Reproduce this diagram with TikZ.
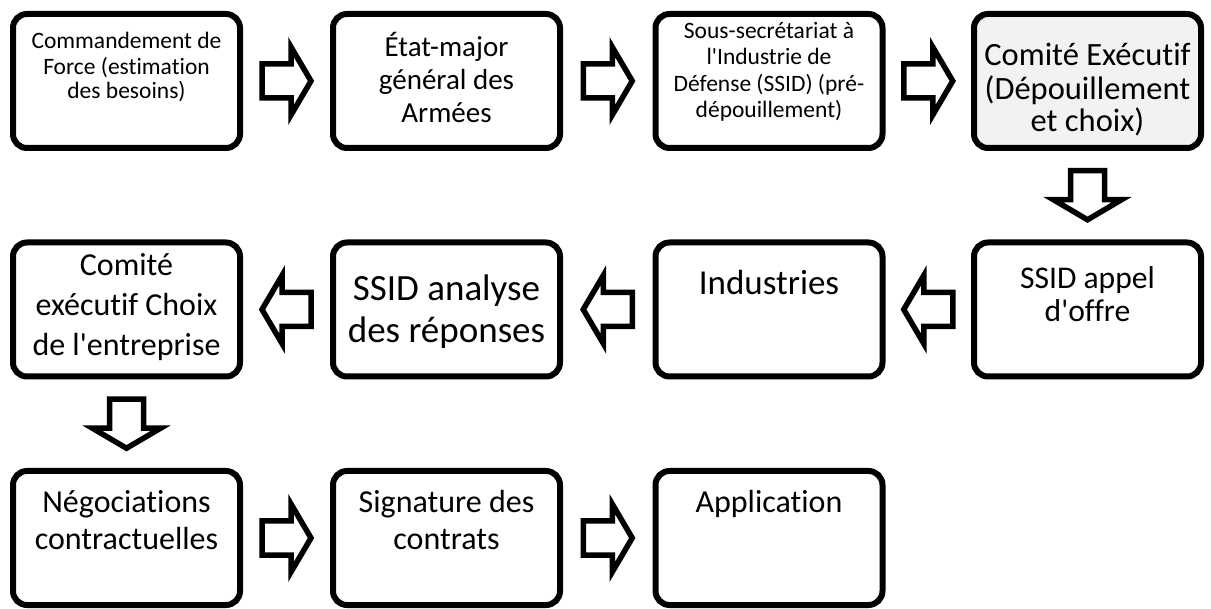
\documentclass[tikz,border=0pt]{standalone}
\usepackage{fontspec}
\setmainfont{Carlito}[Ligatures={TeXOff,CommonOff}]
\usetikzlibrary{calc}
\definecolor{boxgray}{HTML}{F2F2F2}
\newcommand\fsz[2]{\fontsize{#1pt}{#2pt}\selectfont}
\tikzset{
  box/.style={draw=black, line width=6pt, rounded corners=14pt, minimum width=227pt, minimum height=134pt, inner sep=0pt, fill=white},
  txt/.style={anchor=north, align=center, inner sep=0pt},
  blk/.style={draw=black, line width=5.5pt, fill=white, line join=miter},
  barrow/.pic={\path[blk] (-24.5,-17) -- (4.5,-17) -- (4.5,-34) -- (24.5,0) -- (4.5,34) -- (4.5,17) -- (-24.5,17) -- cycle;}
}
\begin{document}
\begin{tikzpicture}[x=1pt,y=-1pt]
\useasboundingbox[fill=white] (0,0) rectangle (1211,609);
% boxes
\node[box] (b1) at (126.5,81) {};
\node[box] (b2) at (446.5,81) {};
\node[box] (b3) at (769,81) {};
\node[box, fill=boxgray] (b4) at (1087.5,81) {};
\node[box] (b5) at (1087.5,309.5) {};
\node[box] (b6) at (769,309.5) {};
\node[box] (b7) at (446.5,309.5) {};
\node[box] (b8) at (126.5,309.5) {};
\node[box] (b9) at (126.5,538) {};
\node[box] (b10) at (446.5,538) {};
\node[box] (b11) at (769,538) {};
% texts
\node[txt, font=\fsz{23.5}{24.5}] (t1) at ($(b1.north)+(0,20.5)$) {\strut Commandement de\\Force (estimation\\des besoins)};
\node[txt, font=\fsz{29}{33}] (t2) at ($(b2.north)+(0,21)$) {\strut État-major\\général des\\Armées};
\node[txt, font=\fsz{23.5}{26.3}] (t3) at ($(b3.north)+(0,8.8)$) {\strut Sous-secrétariat à\\l'Industrie de\\Défense (SSID) (pré-\\dépouillement)};
\node[txt, font=\fsz{32.5}{32}] (t4) at ($(b4.north)+(0,31.6)$) {\strut Comité Exécutif\\(Dépouillement\\et choix)};
\node[txt, font=\fsz{31.6}{33}] (t5) at ($(b5.north)+(0,25.9)$) {\strut SSID appel\\d'offre};
\node[txt, font=\fsz{35}{42}] (t6) at ($(b6.north)+(0,25.6)$) {\strut Industries};
\node[txt, font=\fsz{37}{42}] (t7) at ($(b7.north)+(0,31)$) {\strut SSID analyse\\des réponses};
\node[txt, font=\fsz{32}{40}] (t8) at ($(b8.north)+(0,7.5)$) {\strut Comité\\exécutif Choix\\de l'entreprise};
\node[txt, font=\fsz{32}{37}] (t9) at ($(b9.north)+(0,18.8)$) {\strut Négociations\\contractuelles};
\node[txt, font=\fsz{32}{37}] (t10) at ($(b10.north)+(0,18.8)$) {\strut Signature des\\contrats};
\node[txt, font=\fsz{32}{37}] (t11) at ($(b11.north)+(0,18.8)$) {\strut Application};
% block arrows
\pic at ($(b1.east)!0.5!(b2.west)$) {barrow};
\pic at ($(b2.east)!0.5!(b3.west)$) {barrow};
\pic at ($(b3.east)!0.5!(b4.west)$) {barrow};
\pic[rotate=-90] at ($(b4.south)!0.5!(b5.north)$) {barrow};
\pic[rotate=180] at ($(b5.west)!0.5!(b6.east)$) {barrow};
\pic[rotate=180] at ($(b6.west)!0.5!(b7.east)$) {barrow};
\pic[rotate=180] at ($(b7.west)!0.5!(b8.east)$) {barrow};
\pic[rotate=-90] at ($(b8.south)!0.5!(b9.north)$) {barrow};
\pic at ($(b9.east)!0.5!(b10.west)$) {barrow};
\pic at ($(b10.east)!0.5!(b11.west)$) {barrow};
\end{tikzpicture}
\end{document}
